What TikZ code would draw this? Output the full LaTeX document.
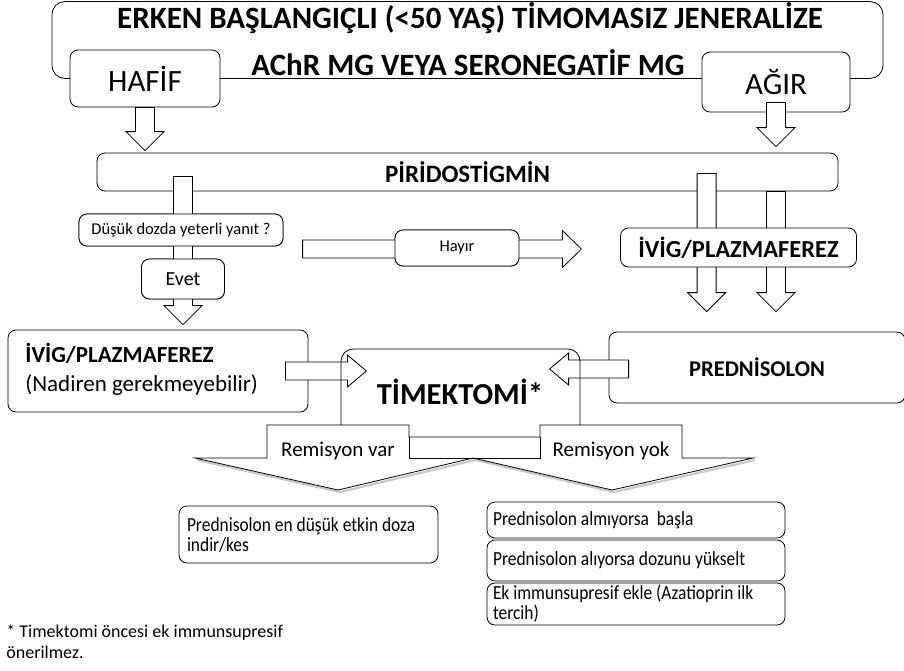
\documentclass[tikz,border=0pt]{standalone}
\usepackage{fontspec}
\setmainfont{Carlito}
\newfontfamily\resultfont[FakeStretch=0.87]{Carlito}
\usetikzlibrary{calc,positioning}

% hollow block arrows, drawn from a start point to a tip
\newcommand\downblock[2]{%
  \draw[blockarrow] let \p1=#1, \p2=#2 in
    (\x1-9.5pt,\y1) -- (\x1-9.5pt,\y2+19pt) -- (\x1-19pt,\y2+19pt) -- (\x1,\y2)
    -- (\x1+19pt,\y2+19pt) -- (\x1+9.5pt,\y2+19pt) -- (\x1+9.5pt,\y1) -- cycle;}
\newcommand\rightblock[4]{%
  \draw[blockarrow] let \p1=#1, \p2=#2 in
    (\x1,\y2+#3) -- (\x2-19pt,\y2+#3) -- (\x2-19pt,\y2+#4) -- (\x2,\y2)
    -- (\x2-19pt,\y2-#4) -- (\x2-19pt,\y2-#3) -- (\x1,\y2-#3) -- cycle;}
\newcommand\leftblock[4]{%
  \draw[blockarrow] let \p1=#1, \p2=#2 in
    (\x1,\y2+#3) -- (\x2+19pt,\y2+#3) -- (\x2+19pt,\y2+#4) -- (\x2,\y2)
    -- (\x2+19pt,\y2-#4) -- (\x2+19pt,\y2-#3) -- (\x1,\y2-#3) -- cycle;}

\begin{document}
\begin{tikzpicture}[x=1pt,y=-1pt,line width=0.8pt,
    box/.style={draw,fill=white,rounded corners=8pt,inner sep=0pt},
    blockarrow/.style={draw,fill=white,line join=miter},
    big/.style={font=\fontsize{31}{36}\selectfont\bfseries},
    small/.style={font=\fontsize{16.5}{20}\selectfont},
    result/.style={font=\resultfont\fontsize{20}{20}\selectfont,align=flush left}]
  \useasboundingbox (0,0) rectangle (904,670);

  % title
  \node[box,rounded corners=13pt,minimum width=831pt,minimum height=77pt] (tbox) at (467.5,40) {};
  \node[big,inner sep=0pt] (title1) at (470,18) {ERKEN BAŞLANGIÇLI (<50 YAŞ) TİMOMASIZ JENERALİZE};
  \node[big,inner sep=0pt] (title2) at (468,63) {AChR MG VEYA SERONEGATİF MG};
  \node[box,minimum width=150pt,minimum height=57pt,font=\fontsize{31}{36}\selectfont] (hafif) at (145,78.5) {HAFİF};
  \node[box,minimum width=148pt,minimum height=60pt,font=\fontsize{31}{36}\selectfont] (agir) at (776,82) {AĞIR};

  % piridostigmin
  \node[box,minimum width=741pt,minimum height=38pt,font=\fontsize{25}{30}\selectfont\bfseries] (piri) at (467.5,172) {PİRİDOSTİGMİN};
  \downblock{(hafif.south)}{($(hafif.south |- piri.north)+(0,-2)$)}
  \downblock{($(agir.south)+(0,-10)$)}{($(agir.south |- piri.north)+(0,-6)$)}

  % left branch
  \node[box,minimum width=204pt,minimum height=32pt,small] (dusuk) at (181,230) {Düşük dozda yeterli yanıt ?};
  \node[box,minimum width=83pt,minimum height=40pt,font=\fontsize{20}{24}\selectfont] (evet) at (183,279) {Evet};
  \node[box,minimum width=300pt,minimum height=82pt] (ivigl) at (158,371) {};
  \downblock{($(piri.south -| evet)+(0,-15)$)}{($(ivigl.north -| evet)+(0,-5)$)}
  \node[box,minimum width=204pt,minimum height=32pt,small] at (dusuk) {Düşük dozda yeterli yanıt ?};
  \node[box,minimum width=83pt,minimum height=40pt,font=\fontsize{20}{24}\selectfont] at (evet) {Evet};
  \node[inner sep=0pt,anchor=west,font=\fontsize{23}{27}\selectfont\bfseries] (ivigl1) at (25,353) {İVİG/PLAZMAFEREZ};
  \node[inner sep=0pt,anchor=west,font=\fontsize{23}{27}\selectfont] (ivigl2) at (25,385) {(Nadiren gerekmeyebilir)};

  % right branch
  \node[box,minimum width=124pt,minimum height=36pt] (hayir) at (457,248) {};
  \rightblock{($(hayir.west)+(-92,1)$)}{($(hayir.east)+(62,1)$)}{9pt}{18.5pt}
  \node[box,minimum width=124pt,minimum height=36pt,small] at (hayir) {Hayır};
  \node[box,minimum width=296pt,minimum height=71pt,font=\fontsize{22.5}{27}\selectfont\bfseries] (pred) at (757,367.5) {PREDNİSOLON};
  \coordinate (ra) at ($(piri.south west)+(610,-18)$);
  \downblock{(ra)}{($(ra |- pred.north)+(0,-20)$)}
  \downblock{(piri.south -| agir)}{($(agir |- pred.north)+(0,-20)$)}
  \node[box,minimum width=236pt,minimum height=39pt,font=\fontsize{24.5}{29}\selectfont\bfseries] (ivigr) at (738.5,247.5) {İVİG/PLAZMAFEREZ};

  % timektomi with the two callouts
  \fill[white] (195,458) -- (267,458) -- (267,425) -- (409,425) -- (409,437) -- (540,437)
    -- (540,425) -- (682,425) -- (682,458) -- (753,458) -- (612,490) -- (473,458) -- (338,490) -- cycle;
  \draw[gray!60,line width=2.2pt,opacity=0.7] (197,460) -- (340,492) -- (475,460) -- (614,492) -- (755,460);
  \draw (195,458) -- (267,458) -- (267,425) -- (409,425) -- (409,437) -- (540,437)
    -- (540,425) -- (682,425) -- (682,458) -- (753,458) -- (612,490) -- (473,458) -- (338,490) -- cycle;
  \draw (409,437) -- (409,458) -- (540,458) -- (540,437);
  \rightblock{($(ivigl.east)+(-23,0)$)}{($(ivigl.east)+(58,0)$)}{9pt}{16pt}
  \leftblock{($(pred.west)+(20,1.5)$)}{($(pred.west)+(-59,1.5)$)}{9pt}{16pt}
  \draw[rounded corners=12pt] (341,425) -- (341,349) -- (580,349) -- (580,425);
  \node[inner sep=0pt,font=\fontsize{30.5}{36}\selectfont\bfseries] (timek) at (460,392) {TİMEKTOMİ*};
  \node[inner sep=0pt,font=\fontsize{21}{25}\selectfont] (remvar) at (338,451) {Remisyon var};
  \node[inner sep=0pt,font=\fontsize{21}{25}\selectfont] (remyok) at (611,451) {Remisyon yok};

  % results
  \node[box,minimum width=259pt,minimum height=57pt,text width=243pt,result] (indir) at (308.5,534.5)
    {Prednisolon en düşük etkin doza\\indir/kes};
  \node[box,minimum width=298pt,minimum height=36pt,text width=286pt,result] (basla) at (636,520)
    {Prednisolon almıyorsa\ \ başla};
  \node[box,minimum width=298pt,minimum height=41pt,text width=286pt,result] (yukselt) at (636,560.5)
    {Prednisolon alıyorsa dozunu yükselt};
  \node[box,minimum width=298pt,minimum height=42pt,text width=286pt,result] (ekle) at (636,604)
    {Ek immunsupresif ekle (Azatioprin ilk\\tercih)};

  % footnote
  \node[inner sep=0pt,anchor=north west,align=left,font=\fontsize{18}{21}\selectfont] (note) at (6,624)
    {* Timektomi öncesi ek immunsupresif\\önerilmez.};
\end{tikzpicture}
\end{document}
